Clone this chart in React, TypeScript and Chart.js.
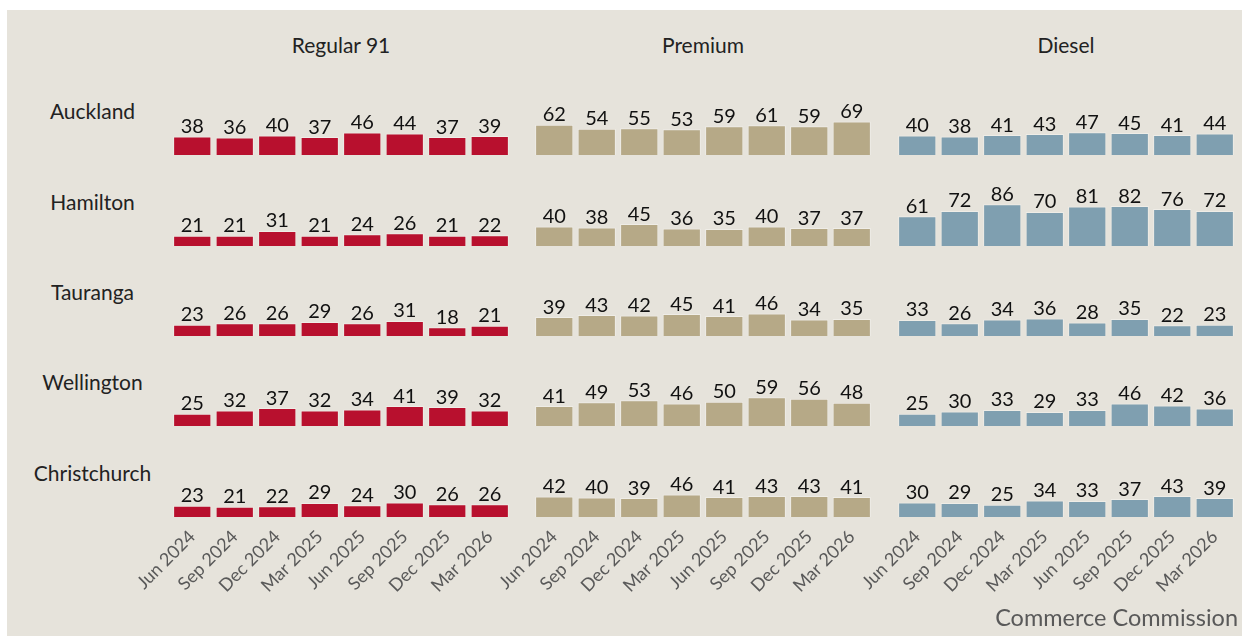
import React, { useEffect, useRef } from 'react';
import { Chart, registerables } from 'chart.js';

Chart.register(...registerables);

// ---------- data ----------
const quarters = ['Jun 2024', 'Sep 2024', 'Dec 2024', 'Mar 2025', 'Jun 2025', 'Sep 2025', 'Dec 2025', 'Mar 2026'];
const cities = ['Auckland', 'Hamilton', 'Tauranga', 'Wellington', 'Christchurch'];
const fuels = ['Regular 91', 'Premium', 'Diesel'];

const regular91 = [
  [38, 36, 40, 37, 46, 44, 37, 39],
  [21, 21, 31, 21, 24, 26, 21, 22],
  [23, 26, 26, 29, 26, 31, 18, 21],
  [25, 32, 37, 32, 34, 41, 39, 32],
  [23, 21, 22, 29, 24, 30, 26, 26],
];
const premium = [
  [62, 54, 55, 53, 59, 61, 59, 69],
  [40, 38, 45, 36, 35, 40, 37, 37],
  [39, 43, 42, 45, 41, 46, 34, 35],
  [41, 49, 53, 46, 50, 59, 56, 48],
  [42, 40, 39, 46, 41, 43, 43, 41],
];
const diesel = [
  [40, 38, 41, 43, 47, 45, 41, 44],
  [61, 72, 86, 70, 81, 82, 76, 72],
  [33, 26, 34, 36, 28, 35, 22, 23],
  [25, 30, 33, 29, 33, 46, 42, 36],
  [30, 29, 25, 34, 33, 37, 43, 39],
];
const seriesByFuel = [regular91, premium, diesel];
const sourceText = 'Commerce Commission';

// ---------- styles / layout ----------
const FONT = 'Lato';
const fuelColors = ['#b8102e', '#b6a987', '#7f9fb0'];
const BG = '#e6e3db';
const colLeft = [171, 533, 896];
const plotW = 340;
const padL = 90;
const rowBase = [155, 246, 336, 426, 517];
const plotH = 90;
const tickArea = 95;
const yMax = 185;

const valueLabels = {
  id: 'valueLabels',
  afterDatasetsDraw(chart: any) {
    const ctx = chart.ctx;
    const meta = chart.getDatasetMeta(0);
    const ds = chart.data.datasets[0];
    ctx.save();
    ctx.font = `20px ${FONT}`;
    ctx.fillStyle = '#111111';
    ctx.textAlign = 'center';
    ctx.textBaseline = 'alphabetic';
    meta.data.forEach((bar: any, i: number) => {
      ctx.fillText(String(ds.data[i]), bar.x, bar.y - 3.5);
    });
    ctx.restore();
  },
};

function Panel(props: { values: number[]; color: string; showTicks: boolean; left: number; top: number }) {
  const ref = useRef<HTMLCanvasElement | null>(null);
  const { values, color, showTicks, left, top } = props;
  const h = plotH + (showTicks ? tickArea : 0);
  const w = plotW + padL;
  useEffect(() => {
    if (!ref.current) return;
    const chart = new Chart(ref.current, {
      type: 'bar',
      data: {
        labels: quarters,
        datasets: [
          {
            data: values,
            backgroundColor: color,
            borderColor: 'rgba(255,255,255,0.35)',
            borderWidth: 1,
            barPercentage: 0.9,
            categoryPercentage: 1,
          },
        ],
      },
      options: {
        responsive: false,
        maintainAspectRatio: false,
        animation: false,
        devicePixelRatio: 1,
        layout: { padding: { left: padL, right: 0, top: 0, bottom: 0 } },
        plugins: { legend: { display: false }, tooltip: { enabled: false }, title: { display: false } },
        scales: {
          x: {
            display: showTicks,
            grid: { display: false, drawTicks: true, tickLength: 7 },
            border: { display: false },
            ticks: {
              autoSkip: false,
              minRotation: 45,
              maxRotation: 45,
              color: '#595959',
              font: { family: FONT, size: 18 },
              padding: 2,
            },
            afterFit: (s: any) => {
              if (showTicks) s.height = tickArea;
              s.paddingLeft = 0;
              s.paddingRight = 0;
            },
          },
          y: { display: false, min: 0, max: yMax },
        },
      },
      plugins: [valueLabels],
    } as any);
    return () => chart.destroy();
  }, []);
  return (
    <canvas
      ref={ref}
      width={w}
      height={h}
      style={{ position: 'absolute', left: left - padL, top, width: w, height: h }}
    />
  );
}

function Txt(props: { text: string; x: number; baseline: number; size: number; color: string; align: 'center' | 'right' }) {
  const { text, x, baseline, size, color, align } = props;
  const lh = size * 1.2;
  const top = baseline - size * 0.987;
  const style: React.CSSProperties = {
    position: 'absolute',
    top,
    fontFamily: FONT,
    fontSize: size,
    lineHeight: `${lh}px`,
    color,
    whiteSpace: 'nowrap',
  };
  if (align === 'center') {
    style.left = x - 200;
    style.width = 400;
    style.textAlign = 'center';
  } else {
    style.right = 1242 - x;
    style.textAlign = 'right';
  }
  return <div style={style}>{text}</div>;
}

export default function App() {
  useEffect(() => {
    document.body.style.margin = '0';
  }, []);
  return (
    <div style={{ position: 'absolute', left: 0, top: 0, width: 1242, height: 636, background: '#ffffff', overflow: 'hidden' }}>
      <div style={{ position: 'absolute', left: 7, top: 10, width: 1235, height: 626, background: BG }} />
      {fuels.map((f, c) => (
        <Txt key={f} text={f} x={colLeft[c] + plotW / 2} baseline={52.3} size={21} color="#222222" align="center" />
      ))}
      {cities.map((city, r) => (
        <Txt key={city} text={city} x={92.5} baseline={119 + 90.35 * r} size={21} color="#222222" align="center" />
      ))}
      {seriesByFuel.map((rows, c) =>
        rows.map((vals, r) => (
          <Panel
            key={`${c}-${r}`}
            values={vals}
            color={fuelColors[c]}
            showTicks={r === rows.length - 1}
            left={colLeft[c]}
            top={rowBase[r] - plotH}
          />
        ))
      )}
      <Txt text={sourceText} x={1238} baseline={626} size={23.5} color="#595959" align="right" />
    </div>
  );
}
